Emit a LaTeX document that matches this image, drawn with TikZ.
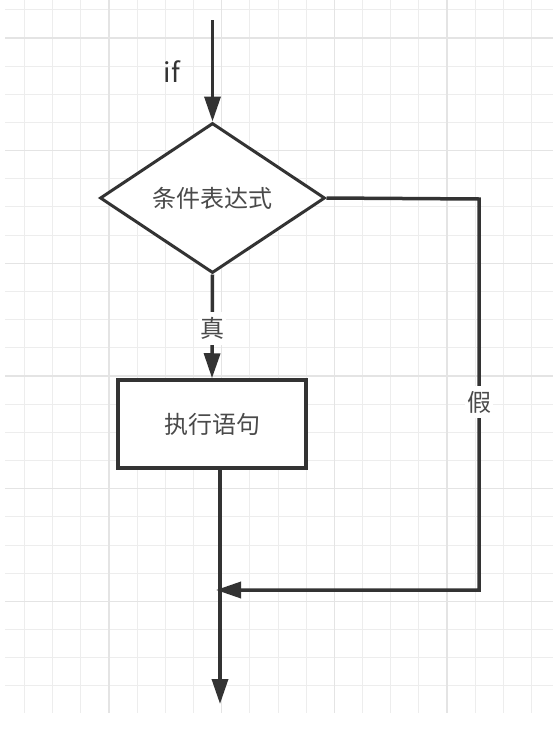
\documentclass[tikz,border=0pt]{standalone}
\usepackage{fontspec}
\setmainfont{Noto Sans CJK SC}
\usetikzlibrary{arrows.meta,shapes.geometric}
\definecolor{lineC}{HTML}{333333}
\definecolor{textC}{HTML}{4A4A4A}
\definecolor{gridMinor}{HTML}{EDEDED}
\definecolor{gridMajor}{HTML}{E4E4E4}
\begin{document}
\begin{tikzpicture}[x=1pt,y=-1pt,
  conn/.style={draw=lineC,line width=3.5pt},
  arr/.style={conn,-{Triangle[length=25pt,width=16pt]}},
  decision/.style={diamond,draw=lineC,line width=3pt,fill=white,inner sep=0pt,
    minimum width=225pt,minimum height=150pt,text=textC,font=\fontsize{24}{27}\selectfont},
  process/.style={rectangle,draw=lineC,line width=3.5pt,fill=white,inner sep=0pt,
    minimum width=188pt,minimum height=88pt,text=textC,font=\fontsize{24}{27}\selectfont},
  lbl/.style={fill=white,text=textC,inner xsep=2pt,inner ysep=5pt,font=\fontsize{24}{27}\selectfont}]
\useasboundingbox (0,0) rectangle (559,736);
\fill[white] (0,0) rectangle (559,736);
% grid
\foreach \k in {0,...,18}{
  \pgfmathsetmacro\gx{24.5+28.17*\k}
  \draw[gridMinor,line width=1pt] (\gx,0) -- (\gx,713);
}
\foreach \k in {0,...,24}{
  \pgfmathsetmacro\gy{9.8+28.17*\k}
  \draw[gridMinor,line width=1pt] (5,\gy) -- (553,\gy);
}
\foreach \k in {3,7,11,15}{
  \pgfmathsetmacro\gx{24.5+28.17*\k}
  \draw[gridMajor,line width=1.5pt] (\gx,0) -- (\gx,713);
}
\foreach \k in {1,5,9,13,17,21}{
  \pgfmathsetmacro\gy{9.8+28.17*\k}
  \draw[gridMajor,line width=1.5pt] (5,\gy) -- (553,\gy);
}
% nodes
\coordinate (start) at (212.5,20);
\node[decision] (cond) at (212.5,198) {条件表达式};
\node[process] (act) at (212,424) {执行语句};
\coordinate (c1) at (479,199);
\coordinate (c2) at (479,590);
\coordinate (join) at (216,590);
\coordinate (endp) at (220,704);
\node[text=lineC,font=\fontsize{27}{30}\selectfont] (iflbl) at (172,72) {if};
% connectors
\draw[arr] (start) -- (cond.north);
\draw[arr] (cond.south) -- node[lbl,pos=0.52] (t) {真} (act.north);
\draw[arr] (cond.east) -- (c1) -- node[lbl,pos=0.52] (f) {假} (c2) -- (join);
\draw[arr] ([xshift=8pt]act.south) -- (endp);
\end{tikzpicture}
\end{document}
